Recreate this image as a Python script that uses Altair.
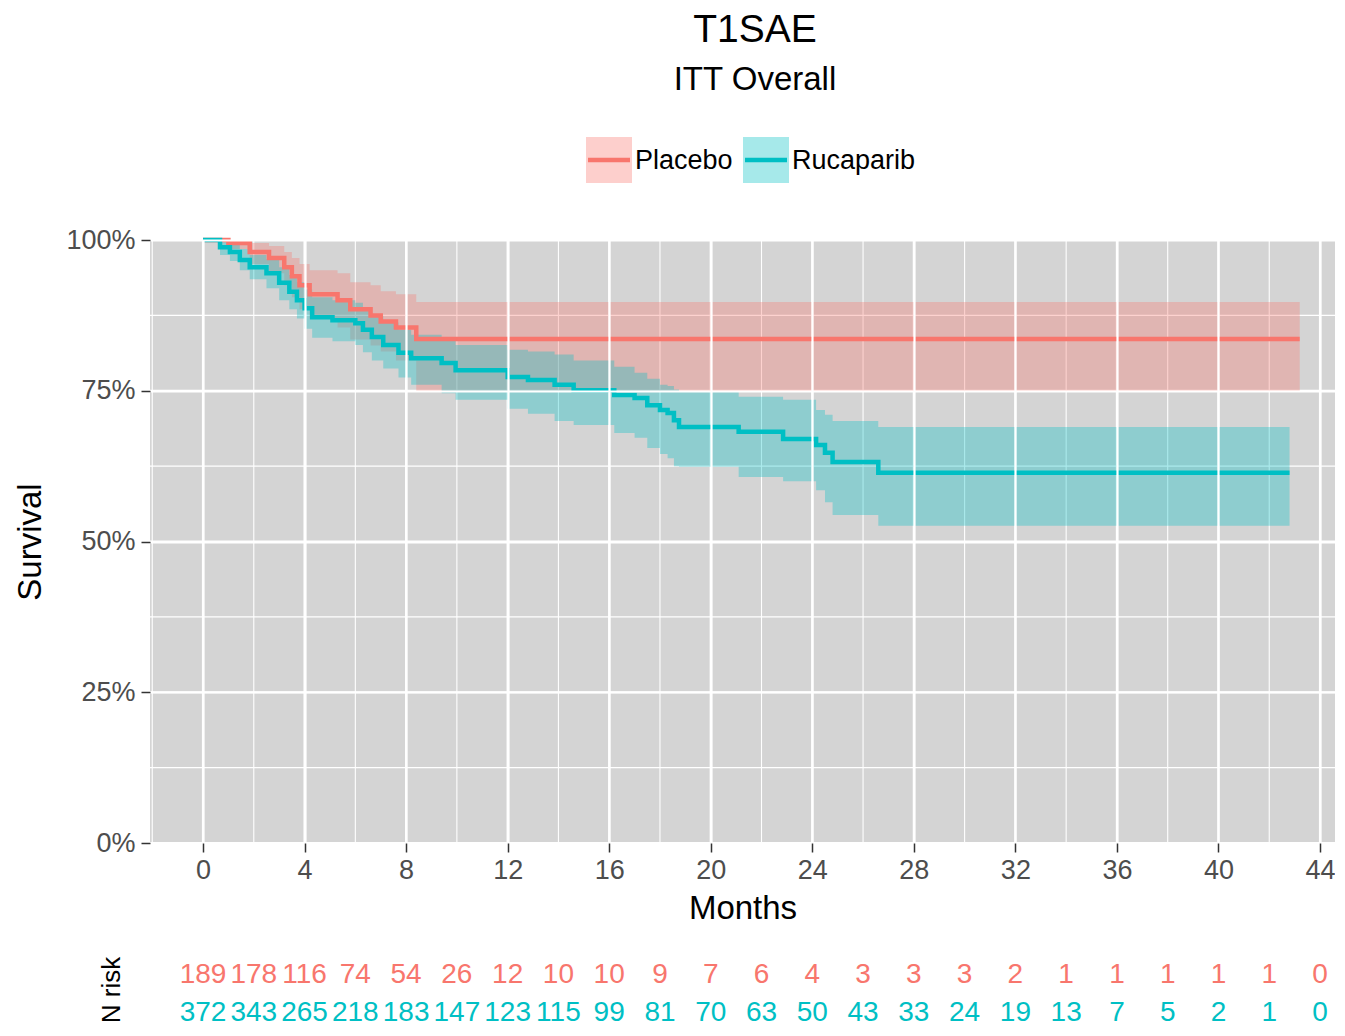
import altair as alt
import pandas as pd

# ---------------- data ----------------
groups = ["Placebo", "Rucaparib"]
colors = ["#F8766D", "#00BFC4"]

placebo_time = [0, 1.0, 1.84, 2.6, 3.2, 3.5, 3.8, 4.2, 5.3, 5.8, 6.6, 7.0, 7.6, 8.4]
placebo_surv = [1.0, 0.995, 0.98, 0.97, 0.955, 0.94, 0.925, 0.91, 0.90, 0.885, 0.875, 0.865, 0.855, 0.836]
placebo_upper = [1.0, 1.0, 0.995, 0.99, 0.98, 0.97, 0.96, 0.95, 0.945, 0.93, 0.925, 0.915, 0.91, 0.897]
placebo_lower = [1.0, 0.985, 0.96, 0.945, 0.925, 0.905, 0.885, 0.87, 0.855, 0.835, 0.825, 0.815, 0.80, 0.748]
placebo_end = 43.2

ruca_time = [0, 0.67, 1.06, 1.45, 1.84, 2.5, 3.0, 3.4, 3.7, 4.0, 4.3, 5.1, 6.0, 6.3, 6.65, 7.1, 7.7,
             8.2, 9.4, 9.95, 12.0, 12.8, 13.85, 14.6, 16.2, 17.0, 17.5, 18.0, 18.3, 18.55, 18.75,
             21.1, 22.85, 24.15, 24.5, 24.8, 26.6]
ruca_surv = [1.0, 0.988, 0.98, 0.967, 0.955, 0.945, 0.929, 0.914, 0.90, 0.887, 0.872, 0.867, 0.862,
             0.851, 0.839, 0.826, 0.813, 0.804, 0.796, 0.784, 0.773, 0.768, 0.76, 0.751, 0.743, 0.738,
             0.726, 0.718, 0.713, 0.701, 0.69, 0.682, 0.67, 0.66, 0.647, 0.632, 0.614]
ruca_lower = [1.0, 0.975, 0.965, 0.95, 0.935, 0.92, 0.90, 0.885, 0.87, 0.853, 0.838, 0.832, 0.826,
              0.814, 0.80, 0.787, 0.772, 0.76, 0.746, 0.735, 0.72, 0.712, 0.70, 0.693, 0.68, 0.672,
              0.655, 0.645, 0.638, 0.625, 0.624, 0.607, 0.60, 0.585, 0.565, 0.544, 0.526]
ruca_upper = [1.0, 1.0, 0.995, 0.985, 0.975, 0.968, 0.955, 0.942, 0.93, 0.918, 0.905, 0.90, 0.896,
              0.886, 0.875, 0.863, 0.851, 0.843, 0.834, 0.826, 0.818, 0.815, 0.81, 0.80, 0.79, 0.78,
              0.77, 0.76, 0.758, 0.752, 0.748, 0.74, 0.735, 0.718, 0.71, 0.70, 0.69]
ruca_end = 42.8

risk_times = list(range(0, 45, 2))
risk_placebo = [189, 178, 116, 74, 54, 26, 12, 10, 10, 9, 7, 6, 4, 3, 3, 3, 2, 1, 1, 1, 1, 1, 0]
risk_ruca = [372, 343, 265, 218, 183, 147, 123, 115, 99, 81, 70, 63, 50, 43, 33, 24, 19, 13, 7, 5, 2, 1, 0]

x_major = list(range(0, 45, 4))
x_minor = list(range(-2, 45, 4))
y_major = [0, 0.25, 0.5, 0.75, 1.0]
y_minor = [0.125, 0.375, 0.625, 0.875]

# ---------------- layout constants ----------------
W, H = 1185, 603
FONT = "Liberation Sans"
x_dom = [-2.088, 44.59]
PANEL = "#D4D4D4"


def curve(name, t, s, lo, up, end):
    rows = [dict(group=name, time=a, surv=b, lower=c, upper=d) for a, b, c, d in zip(t, s, lo, up)]
    rows.append(dict(group=name, time=end, surv=s[-1], lower=lo[-1], upper=up[-1]))
    return rows


curves = pd.DataFrame(
    curve("Placebo", placebo_time, placebo_surv, placebo_lower, placebo_upper, placebo_end)
    + curve("Rucaparib", ruca_time, ruca_surv, ruca_lower, ruca_upper, ruca_end)
)

risk = pd.DataFrame(
    [dict(group="Placebo", time=t, n=n) for t, n in zip(risk_times, risk_placebo)]
    + [dict(group="Rucaparib", time=t, n=n) for t, n in zip(risk_times, risk_ruca)]
)

color_scale = alt.Scale(domain=groups, range=colors)
xs = alt.Scale(domain=x_dom, nice=False, zero=False)
ys = alt.Scale(domain=[0, 1], nice=False)

x_axis = alt.Axis(values=x_major, title="Months", grid=True, gridColor="white", gridWidth=2.2,
                  domain=False, tickColor="#333333", tickWidth=1.5, tickSize=9,
                  labelFontSize=27, labelColor="#4D4D4D", labelPadding=5, labelFont=FONT,
                  titleFontSize=33, titleFontWeight="normal", titleColor="black", titlePadding=9,
                  titleFont=FONT, zindex=1)
y_axis = alt.Axis(values=y_major, format=".0%", title="Survival", grid=True, gridColor="white",
                  gridWidth=2.2, domain=False, tickColor="#333333", tickWidth=1.5, tickSize=9,
                  labelFontSize=27, labelColor="#4D4D4D", labelPadding=6, labelFont=FONT,
                  titleFontSize=33, titleFontWeight="normal", titleColor="black", titlePadding=18,
                  titleFont=FONT, zindex=1)

one = alt.Data(values=[{"a": 1}])

panel = alt.Chart(one).mark_rect(color=PANEL).encode(
    x=alt.value(0), x2=alt.value(W), y=alt.value(0), y2=alt.value(H))

minor_v = alt.Chart(pd.DataFrame({"x": x_minor})).transform_filter(
    (alt.datum.x >= x_dom[0]) & (alt.datum.x <= x_dom[1])).mark_rule(
    color="white", strokeWidth=1.1).encode(x=alt.X("x:Q", scale=xs, axis=x_axis))
minor_h = alt.Chart(pd.DataFrame({"y": y_minor})).mark_rule(color="white", strokeWidth=1.1).encode(
    y=alt.Y("y:Q", scale=ys, axis=y_axis)
)
major_v = alt.Chart(pd.DataFrame({"x": x_major})).mark_rule(color="white", strokeWidth=2.2).encode(
    x=alt.X("x:Q", scale=xs))
major_h = alt.Chart(pd.DataFrame({"y": y_major})).mark_rule(color="white", strokeWidth=2.2).encode(
    y=alt.Y("y:Q", scale=ys))

bands = alt.Chart(curves).mark_area(interpolate="step-after", opacity=0.33).encode(
    x=alt.X("time:Q", scale=xs),
    y=alt.Y("lower:Q", scale=ys),
    y2="upper:Q",
    color=alt.Color("group:N", scale=color_scale, legend=None),
)
lines = alt.Chart(curves).mark_line(interpolate="step-after", strokeWidth=4.5).encode(
    x=alt.X("time:Q", scale=xs),
    y=alt.Y("surv:Q", scale=ys),
    color=alt.Color("group:N", scale=color_scale, legend=None),
)

risk_p = alt.Chart(risk).transform_filter(alt.datum.group == "Placebo").mark_text(
    fontSize=28, font=FONT, baseline="middle", align="center").encode(
    x=alt.X("time:Q", scale=xs),
    y=alt.value(735),
    text="n:Q",
    color=alt.Color("group:N", scale=color_scale, legend=None),
)
risk_r = alt.Chart(risk).transform_filter(alt.datum.group == "Rucaparib").mark_text(
    fontSize=28, font=FONT, baseline="middle", align="center").encode(
    x=alt.X("time:Q", scale=xs),
    y=alt.value(773),
    text="n:Q",
    color=alt.Color("group:N", scale=color_scale, legend=None),
)

nrisk = alt.Chart(one).mark_text(fontSize=26, font=FONT, angle=270, baseline="middle",
                                 align="center", color="black").encode(
    x=alt.value(-38), y=alt.value(750), text=alt.value("N risk"))

title = alt.Chart(one).mark_text(fontSize=39, font=FONT, baseline="middle", align="center",
                                 color="black").encode(
    x=alt.value(605), y=alt.value(-210), text=alt.value("T1SAE"))
subtitle = alt.Chart(one).mark_text(fontSize=33, font=FONT, baseline="middle", align="center",
                                    color="black").encode(
    x=alt.value(605), y=alt.value(-160), text=alt.value("ITT Overall"))

# legend (manual, ggplot style: pale box with line)
leg_x = [436, 593]
leg_layers = []
for g, c, lx in zip(groups, colors, leg_x):
    leg_layers.append(alt.Chart(one).mark_rect(color=c, opacity=0.35).encode(
        x=alt.value(lx), x2=alt.value(lx + 46), y=alt.value(-103), y2=alt.value(-57)))
    leg_layers.append(alt.Chart(one).mark_rule(color=c, strokeWidth=4.5).encode(
        x=alt.value(lx + 2), x2=alt.value(lx + 44), y=alt.value(-80)))
    leg_layers.append(alt.Chart(one).mark_text(fontSize=27, font=FONT, align="left",
                                               baseline="middle", color="black").encode(
        x=alt.value(lx + 49), y=alt.value(-79), text=alt.value(g)))

chart = alt.layer(panel, minor_v, minor_h, major_v, major_h, bands, lines, risk_p, risk_r, nrisk,
                  title, subtitle, *leg_layers).properties(
    width=W, height=H,
    autosize=alt.AutoSizeParams(type="none"),
    padding={"left": 142, "top": 232, "right": 0, "bottom": 185},
).configure_view(stroke=None).configure(font=FONT)

chart.save("out.html", embed_options={"renderer": "svg", "actions": False})
